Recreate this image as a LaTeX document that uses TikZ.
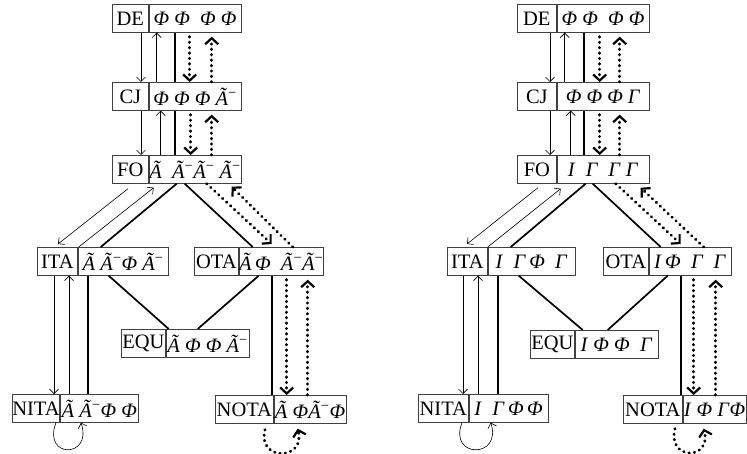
\documentclass[tikz,border=0pt]{standalone}
\usepackage{fontspec}
\setmainfont{Liberation Serif}
\usetikzlibrary{
  arrows.meta,
  positioning
}
\newcommand{\phiv}{\textit{Φ}}
\newcommand{\atil}{\textit{Ã}}
\newcommand{\atilm}{\textit{Ã}\textsuperscript{−}}
\newcommand{\gamv}{\textit{Γ}}
\newcommand{\ivar}{\textit{I}}
\tikzset{
  labelbox/.style={
    draw=black!75, line width=0.7pt, inner sep=0pt,
    minimum height=28pt, anchor=north west,
    font=\fontsize{20.5}{23}\selectfont
  },
  valuebox/.style={
    draw=black!75, line width=0.7pt, inner sep=0pt,
    minimum height=28pt,
    font=\fontsize{20.5}{23}\selectfont
  },
  thinarrow/.style={
    -{Straight Barb[length=4.5pt,width=9pt]}, line width=0.6pt
  },
  thickline/.style={
    line width=1.7pt
  },
  dotarrow/.style={
    -{Straight Barb[length=6pt,width=13pt,line width=2.2pt]},
    line width=3pt, dash pattern=on 0.4pt off 5pt, line cap=round
  },
}

\begin{document}
\begin{tikzpicture}[x=1pt, y=-1pt]

  \path[use as bounding box, fill=white] (0,0) rectangle (747,454);

  %% Left lattice
  \node[labelbox, minimum width=36pt] (de1) at (112,4) {DE};
  \node[valuebox, minimum width=92pt, right=0pt of de1] (de1v)
    {\phiv\ \phiv\ \ \phiv\ \phiv};
  \node[labelbox, minimum width=36pt] (cj1) at (112,82) {CJ};
  \node[valuebox, minimum width=92pt, right=0pt of cj1] (cj1v)
    {\phiv\ \phiv\ \phiv\ \atilm};
  \node[labelbox, minimum width=36pt] (fo1) at (112,155) {FO};
  \node[valuebox, minimum width=92pt, right=0pt of fo1] (fo1v)
    {\atil\ \ \atilm\atilm\ \atilm};
  \node[labelbox, minimum width=40pt] (ita1) at (37,247) {ITA};
  \node[valuebox, minimum width=90pt, right=0pt of ita1] (ita1v)
    {\atil\ \atilm\phiv\ \atilm};
  \node[labelbox, minimum width=44pt] (ota1) at (194,247) {OTA};
  \node[valuebox, minimum width=84pt, right=0pt of ota1] (ota1v)
    {\atil\,\phiv\ \ \atilm\atilm};
  \node[labelbox, minimum width=44pt] (equ1) at (121,329) {EQU};
  \node[valuebox, minimum width=83pt, right=0pt of equ1] (equ1v)
    {\atil\ \phiv\ \phiv\ \atilm};
  \node[labelbox, minimum width=47pt] (nita1) at (12,394) {NITA};
  \node[valuebox, minimum width=78pt, right=0pt of nita1] (nita1v)
    {\atil\ \atilm\phiv\ \phiv};
  \node[labelbox, minimum width=58pt] (nota1) at (215,395) {NOTA};
  \node[valuebox, minimum width=72pt, right=0pt of nota1] (nota1v)
    {\atil\ \phiv\atilm\phiv};

  %% DE - CJ - FO
  \draw[thinarrow] ([xshift=29pt]de1.south west) -- ([xshift=29pt]cj1.north west);
  \draw[thinarrow] ([xshift=8pt]cj1v.north west) -- ([xshift=8pt]de1v.south west);
  \draw[thickline] ([xshift=26pt]de1v.south west) -- ([xshift=26pt]cj1v.north west);
  \draw[dotarrow] ([xshift=41pt,yshift=-4pt]de1v.south west) -- ([xshift=41pt]cj1v.north west);
  \draw[dotarrow] ([xshift=63pt]cj1v.north west) -- ([xshift=63pt,yshift=-4pt]de1v.south west);
  \draw[thinarrow] ([xshift=29pt]cj1.south west) -- ([xshift=29pt]fo1.north west);
  \draw[thinarrow] ([xshift=12pt]fo1v.north west) -- ([xshift=12pt]cj1v.south west);
  \draw[thickline] ([xshift=26pt]cj1v.south west) -- ([xshift=26pt]fo1v.north west);
  \draw[dotarrow] ([xshift=42pt,yshift=-4pt]cj1v.south west) -- ([xshift=42pt]fo1v.north west);
  \draw[dotarrow] ([xshift=63pt]fo1v.north west) -- ([xshift=63pt,yshift=-4pt]cj1v.south west);

  %% FO - ITA / OTA
  \draw[thinarrow] ([xshift=16pt,yshift=-5pt]fo1.south west) -- ([xshift=21pt,yshift=3pt]ita1.north west);
  \draw[thinarrow] ([xshift=1pt]ita1v.north west) -- ([xshift=5pt,yshift=-4pt]fo1v.south west);
  \draw[thickline] ([xshift=28pt]fo1v.south west) -- ([xshift=23pt]ita1v.north west);
  \draw[thickline] ([xshift=36pt]fo1v.south west) -- ([xshift=14pt]ota1v.north west);
  \draw[dotarrow] ([xshift=58pt]fo1v.south west) -- ([xshift=33pt,yshift=3pt]ota1v.north west);
  \draw[dotarrow] ([xshift=54pt]ota1v.north west) -- ([xshift=83pt,yshift=-3pt]fo1v.south west);

  %% ITA / OTA - EQU
  \draw[thickline] ([xshift=31pt]ita1v.south west) -- ([xshift=3pt]equ1v.north west);
  \draw[thickline] ([xshift=20pt]ota1v.south west) -- ([xshift=32pt]equ1v.north west);

  %% ITA - NITA, OTA - NOTA
  \draw[thinarrow] ([xshift=17pt]ita1.south west) -- ([xshift=17pt]ita1.south west |- nita1.north);
  \draw[thinarrow] ([xshift=32pt]ita1.south west |- nita1.north) -- ([xshift=32pt]ita1.south west);
  \draw[thickline] ([xshift=10pt]ita1v.south west) -- ([xshift=10pt]ita1v.south west |- nita1.north);
  \draw[thickline] ([xshift=33pt]ota1v.south west) -- ([xshift=33pt]ota1v.south west |- nota1.north);
  \draw[dotarrow] ([xshift=48pt,yshift=-4pt]ota1v.south west) -- ([xshift=48pt]ota1v.south west |- nota1.north);
  \draw[dotarrow] ([xshift=69pt]ota1v.south west |- nota1.north) -- ([xshift=69pt,yshift=-4pt]ota1v.south west);

  %% self loops
  \draw[thinarrow] ([xshift=44pt]nita1.south west)
    .. controls +(-14,36) and +(12,36) .. ([xshift=21pt]nita1v.south west);
  \draw[dotarrow] ([xshift=50pt,yshift=-6pt]nota1.south west)
    .. controls +(-8,32) and +(8,32) .. ([xshift=24pt,yshift=-5pt]nota1v.south west);

  %% Right lattice
  \node[labelbox, minimum width=39pt] (de2) at (517,4) {DE};
  \node[valuebox, minimum width=92pt, right=0pt of de2] (de2v)
    {\phiv\ \phiv\ \ \phiv\ \phiv};
  \node[labelbox, minimum width=39pt] (cj2) at (517,82) {CJ};
  \node[valuebox, minimum width=92pt, right=0pt of cj2] (cj2v)
    {\phiv\ \phiv\ \phiv\ \gamv};
  \node[labelbox, minimum width=39pt] (fo2) at (517,155) {FO};
  \node[valuebox, minimum width=92pt, right=0pt of fo2] (fo2v)
    {\ivar\ \ \gamv\ \ \gamv\ \gamv};
  \node[labelbox, minimum width=40pt] (ita2) at (447,247) {ITA};
  \node[valuebox, minimum width=87pt, right=0pt of ita2] (ita2v)
    {\ivar\ \ \gamv\,\phiv\ \ \gamv};
  \node[labelbox, minimum width=45pt] (ota2) at (603,247) {OTA};
  \node[valuebox, minimum width=82pt, right=0pt of ota2] (ota2v)
    {\ivar\,\phiv\ \ \gamv\ \ \gamv};
  \node[labelbox, minimum width=44pt] (equ2) at (530,330) {EQU};
  \node[valuebox, minimum width=83pt, right=0pt of equ2] (equ2v)
    {\ivar\ \phiv\ \phiv\ \ \gamv};
  \node[labelbox, minimum width=50pt] (nita2) at (418,394) {NITA};
  \node[valuebox, minimum width=79pt, right=0pt of nita2] (nita2v)
    {\ivar\ \ \gamv\,\phiv\,\phiv};
  \node[labelbox, minimum width=59pt] (nota2) at (623,395) {NOTA};
  \node[valuebox, minimum width=63pt, right=0pt of nota2] (nota2v)
    {\ivar\ \phiv\ \gamv\phiv};

  %% DE - CJ - FO
  \draw[thinarrow] ([xshift=33pt]de2.south west) -- ([xshift=33pt]cj2.north west);
  \draw[thinarrow] ([xshift=8pt]cj2v.north west) -- ([xshift=8pt]de2v.south west);
  \draw[thickline] ([xshift=27pt]de2v.south west) -- ([xshift=27pt]cj2v.north west);
  \draw[dotarrow] ([xshift=43pt,yshift=-4pt]de2v.south west) -- ([xshift=43pt]cj2v.north west);
  \draw[dotarrow] ([xshift=63pt]cj2v.north west) -- ([xshift=63pt,yshift=-4pt]de2v.south west);
  \draw[thinarrow] ([xshift=33pt]cj2.south west) -- ([xshift=33pt]fo2.north west);
  \draw[thinarrow] ([xshift=14pt]fo2v.north west) -- ([xshift=14pt]cj2v.south west);
  \draw[thickline] ([xshift=27pt]cj2v.south west) -- ([xshift=27pt]fo2v.north west);
  \draw[dotarrow] ([xshift=43pt,yshift=-4pt]cj2v.south west) -- ([xshift=43pt]fo2v.north west);
  \draw[dotarrow] ([xshift=63pt]fo2v.north west) -- ([xshift=63pt,yshift=-4pt]cj2v.south west);

  %% FO - ITA / OTA
  \draw[thinarrow] ([xshift=21pt,yshift=-4pt]fo2.south west) -- ([xshift=20pt,yshift=3pt]ita2.north west);
  \draw[thinarrow] (ita2v.north west) -- ([xshift=4pt,yshift=-5pt]fo2v.south west);
  \draw[thickline] ([xshift=29pt]fo2v.south west) -- ([xshift=23pt]ita2v.north west);
  \draw[thickline] ([xshift=36pt]fo2v.south west) -- ([xshift=12pt]ota2v.north west);
  \draw[dotarrow] ([xshift=59pt]fo2v.south west) -- ([xshift=32pt,yshift=3pt]ota2v.north west);
  \draw[dotarrow] ([xshift=55pt]ota2v.north west) -- ([xshift=84pt,yshift=-4pt]fo2v.south west);

  %% ITA / OTA - EQU
  \draw[thickline] ([xshift=31pt]ita2v.south west) -- ([xshift=8pt]equ2v.north west);
  \draw[thickline] ([xshift=19pt]ota2v.south west) -- ([xshift=33pt]equ2v.north west);

  %% ITA - NITA, OTA - NOTA
  \draw[thinarrow] ([xshift=16pt]ita2.south west) -- ([xshift=16pt]ita2.south west |- nita2.north);
  \draw[thinarrow] ([xshift=31pt]ita2.south west |- nita2.north) -- ([xshift=31pt]ita2.south west);
  \draw[thickline] ([xshift=10pt]ita2v.south west) -- ([xshift=10pt]ita2v.south west |- nita2.north);
  \draw[thickline] ([xshift=32pt]ota2v.south west) -- ([xshift=32pt]ota2v.south west |- nota2.north);
  \draw[dotarrow] ([xshift=45pt,yshift=-4pt]ota2v.south west) -- ([xshift=45pt]ota2v.south west |- nota2.north);
  \draw[dotarrow] ([xshift=67pt]ota2v.south west |- nota2.north) -- ([xshift=67pt,yshift=-4pt]ota2v.south west);

  %% self loops
  \draw[thinarrow] ([xshift=44pt]nita2.south west)
    .. controls +(-14,36) and +(12,36) .. ([xshift=22pt]nita2v.south west);
  \draw[dotarrow] ([xshift=52pt,yshift=-5pt]nota2.south west)
    .. controls +(-8,32) and +(8,32) .. ([xshift=21pt,yshift=-5pt]nota2v.south west);

\end{tikzpicture}
\end{document}
